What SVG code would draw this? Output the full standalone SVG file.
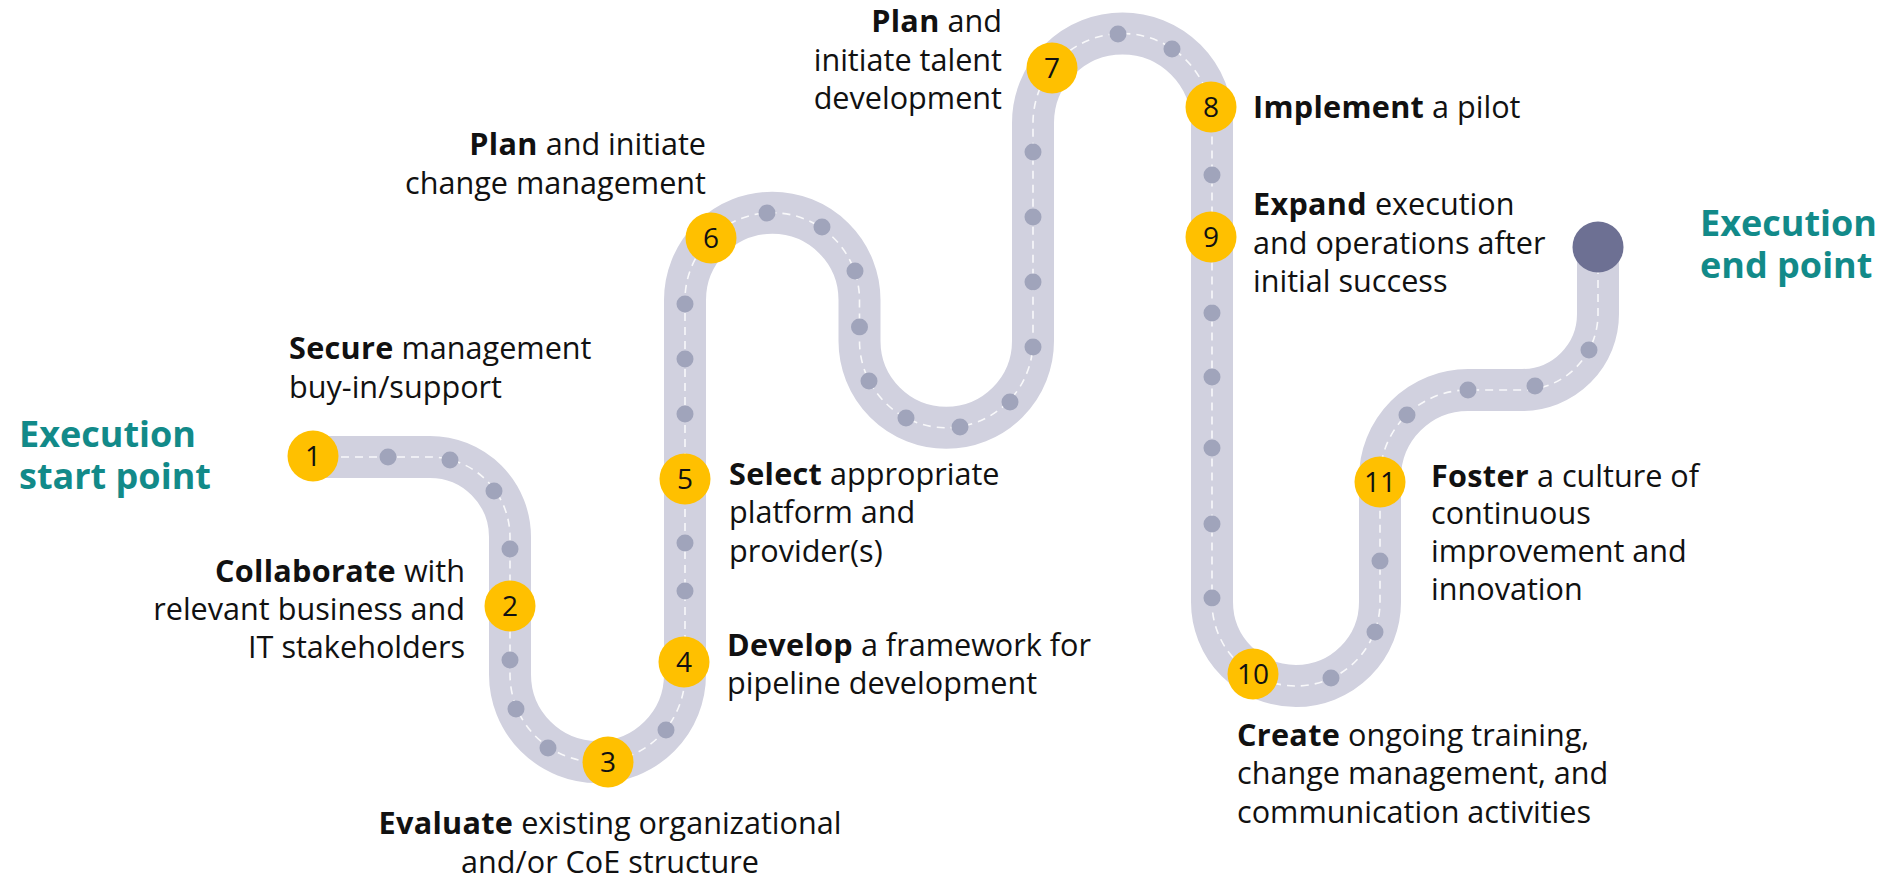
<svg xmlns="http://www.w3.org/2000/svg" width="1888" height="883" viewBox="0 0 1888 883">
<style>
.road{fill:none;stroke:#d1d1df;stroke-width:42;stroke-linejoin:round}
.lane{fill:none;stroke:#ffffff;stroke-opacity:0.85;stroke-width:1.6;stroke-dasharray:8 6}
.dot{fill:#a0a4bb}
.node{fill:#ffc000}
.num{font-family:"Open Sans","Noto Sans",sans-serif;font-size:28px;fill:#111;text-anchor:middle}
.lbl{font-family:"Open Sans","Noto Sans",sans-serif;font-size:30.6px;fill:#111}
.r{text-anchor:end}
.c{text-anchor:middle}
.b{font-weight:700;letter-spacing:0.3px}
.ttl{font-family:"Open Sans","Noto Sans",sans-serif;font-size:36px;font-weight:700;fill:#128a89}
</style>
<rect width="1888" height="883" fill="#ffffff"/>
<g id="connectors">
<path id="route" class="road" d="M313 457 H430 A80 80 0 0 1 510 537 V674.5 A87.5 87.5 0 0 0 685 674.5 V300 A87.25 87.25 0 0 1 859.5 300 V341 A86.75 86.75 0 0 0 1033 341 V123 A89.5 89.5 0 0 1 1212 123 V602 A84 84 0 0 0 1380 602 V478 A88 88 0 0 1 1468 390 H1522 A76 76 0 0 0 1598 314 V247"/>
<path class="lane" d="M313 457 H430 A80 80 0 0 1 510 537 V674.5 A87.5 87.5 0 0 0 685 674.5 V300 A87.25 87.25 0 0 1 859.5 300 V341 A86.75 86.75 0 0 0 1033 341 V123 A89.5 89.5 0 0 1 1212 123 V602 A84 84 0 0 0 1380 602 V478 A88 88 0 0 1 1468 390 H1522 A76 76 0 0 0 1598 314 V247"/>
<g id="road-dots">
<circle class="dot" cx="388" cy="457" r="8.5"/>
<circle class="dot" cx="450" cy="460" r="8.5"/>
<circle class="dot" cx="494" cy="491" r="8.5"/>
<circle class="dot" cx="510" cy="549" r="8.5"/>
<circle class="dot" cx="510" cy="660" r="8.5"/>
<circle class="dot" cx="516" cy="709" r="8.5"/>
<circle class="dot" cx="548" cy="748" r="8.5"/>
<circle class="dot" cx="666" cy="730" r="8.5"/>
<circle class="dot" cx="685" cy="591" r="8.5"/>
<circle class="dot" cx="685" cy="543" r="8.5"/>
<circle class="dot" cx="685" cy="414" r="8.5"/>
<circle class="dot" cx="685" cy="359" r="8.5"/>
<circle class="dot" cx="685" cy="304" r="8.5"/>
<circle class="dot" cx="767" cy="213" r="8.5"/>
<circle class="dot" cx="822" cy="227" r="8.5"/>
<circle class="dot" cx="855" cy="271" r="8.5"/>
<circle class="dot" cx="859.5" cy="327" r="8.5"/>
<circle class="dot" cx="869" cy="381" r="8.5"/>
<circle class="dot" cx="906" cy="418" r="8.5"/>
<circle class="dot" cx="960" cy="427" r="8.5"/>
<circle class="dot" cx="1010" cy="402" r="8.5"/>
<circle class="dot" cx="1033" cy="347" r="8.5"/>
<circle class="dot" cx="1033" cy="282" r="8.5"/>
<circle class="dot" cx="1033" cy="217" r="8.5"/>
<circle class="dot" cx="1033" cy="152" r="8.5"/>
<circle class="dot" cx="1118" cy="34" r="8.5"/>
<circle class="dot" cx="1172" cy="49" r="8.5"/>
<circle class="dot" cx="1212" cy="175" r="8.5"/>
<circle class="dot" cx="1212" cy="313" r="8.5"/>
<circle class="dot" cx="1212" cy="377" r="8.5"/>
<circle class="dot" cx="1212" cy="448" r="8.5"/>
<circle class="dot" cx="1212" cy="524" r="8.5"/>
<circle class="dot" cx="1212" cy="598" r="8.5"/>
<circle class="dot" cx="1331" cy="678" r="8.5"/>
<circle class="dot" cx="1375" cy="632" r="8.5"/>
<circle class="dot" cx="1380" cy="561" r="8.5"/>
<circle class="dot" cx="1407" cy="415" r="8.5"/>
<circle class="dot" cx="1468" cy="390" r="8.5"/>
<circle class="dot" cx="1535" cy="386" r="8.5"/>
<circle class="dot" cx="1589" cy="350" r="8.5"/>
</g>
</g>
<g id="start">
<text class="ttl" x="19" y="447">Execution</text>
<text class="ttl" x="19" y="489">start point</text>
</g>
<g id="end">
<circle cx="1598" cy="247" r="25.5" fill="#6d7093"/>
<text class="ttl" x="1700" y="236">Execution</text>
<text class="ttl" x="1700" y="278">end point</text>
</g>
<g id="node1">
<circle class="node" cx="313" cy="456" r="25.5"/>
<text class="num" x="313" y="466">1</text>
<text class="lbl" x="289" y="359"><tspan class="b">Secure</tspan> management</text>
<text class="lbl" x="289" y="398">buy-in/support</text>
</g>
<g id="node2">
<circle class="node" cx="510" cy="606" r="25.5"/>
<text class="num" x="510" y="616">2</text>
<text class="lbl r" x="465" y="582"><tspan class="b">Collaborate</tspan> with</text>
<text class="lbl r" x="465" y="620">relevant business and</text>
<text class="lbl r" x="465" y="658">IT stakeholders</text>
</g>
<g id="node3">
<circle class="node" cx="608" cy="762" r="25.5"/>
<text class="num" x="608" y="772">3</text>
<text class="lbl c" x="610" y="834"><tspan class="b">Evaluate</tspan> existing organizational</text>
<text class="lbl c" x="610" y="873">and/or CoE structure</text>
</g>
<g id="node4">
<circle class="node" cx="684" cy="662" r="25.5"/>
<text class="num" x="684" y="672">4</text>
<text class="lbl" x="727" y="656"><tspan class="b">Develop</tspan> a framework for</text>
<text class="lbl" x="727" y="694">pipeline development</text>
</g>
<g id="node5">
<circle class="node" cx="685" cy="479" r="25.5"/>
<text class="num" x="685" y="489">5</text>
<text class="lbl" x="729" y="485"><tspan class="b">Select</tspan> appropriate</text>
<text class="lbl" x="729" y="523">platform and</text>
<text class="lbl" x="729" y="562">provider(s)</text>
</g>
<g id="node6">
<circle class="node" cx="711" cy="238" r="25.5"/>
<text class="num" x="711" y="248">6</text>
<text class="lbl r" x="706" y="155"><tspan class="b">Plan</tspan> and initiate</text>
<text class="lbl r" x="706" y="194">change management</text>
</g>
<g id="node7">
<circle class="node" cx="1052" cy="68" r="25.5"/>
<text class="num" x="1052" y="78">7</text>
<text class="lbl r" x="1002" y="32"><tspan class="b">Plan</tspan> and</text>
<text class="lbl r" x="1002" y="71">initiate talent</text>
<text class="lbl r" x="1002" y="109">development</text>
</g>
<g id="node8">
<circle class="node" cx="1211" cy="107" r="25.5"/>
<text class="num" x="1211" y="117">8</text>
<text class="lbl" x="1253" y="118"><tspan class="b">Implement</tspan> a pilot</text>
</g>
<g id="node9">
<circle class="node" cx="1211" cy="237" r="25.5"/>
<text class="num" x="1211" y="247">9</text>
<text class="lbl" x="1253" y="215"><tspan class="b">Expand</tspan> execution</text>
<text class="lbl" x="1253" y="254">and operations after</text>
<text class="lbl" x="1253" y="292">initial success</text>
</g>
<g id="node10">
<circle class="node" cx="1253" cy="674" r="25.5"/>
<text class="num" x="1253" y="684">10</text>
<text class="lbl" x="1237" y="746"><tspan class="b">Create</tspan> ongoing training,</text>
<text class="lbl" x="1237" y="784">change management, and</text>
<text class="lbl" x="1237" y="823">communication activities</text>
</g>
<g id="node11">
<circle class="node" cx="1380" cy="482" r="25.5"/>
<text class="num" x="1380" y="492">11</text>
<text class="lbl" x="1431" y="487"><tspan class="b">Foster</tspan> a culture of</text>
<text class="lbl" x="1431" y="524">continuous</text>
<text class="lbl" x="1431" y="562">improvement and</text>
<text class="lbl" x="1431" y="600">innovation</text>
</g>
</svg>
